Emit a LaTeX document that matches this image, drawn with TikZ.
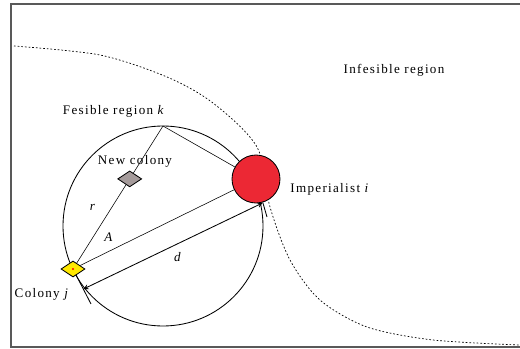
\documentclass[tikz,border=0pt]{standalone}
\usepackage{fontspec}
\setmainfont{Liberation Serif}[LetterSpace=10]
\usetikzlibrary{calc,shapes.geometric,backgrounds}
\definecolor{impred}{RGB}{236,40,52}
\definecolor{colyellow}{RGB}{255,232,0}
\definecolor{newgray}{RGB}{165,155,155}

\begin{document}
\begin{tikzpicture}[>=stealth,line width=0.6pt,x=0.25mm,y=0.25mm,
    lbl/.style={font=\fontsize{9.3}{11}\selectfont,inner sep=0pt},
    country/.style={draw,inner sep=0pt}]
    \useasboundingbox (0,0) rectangle (520,349);
    % Frame (open on the right)
    \draw[gray!70!black,line width=0.9pt] (520,345) -- (11,345) -- (11,2) -- (520,2);

    % Border of the feasible region
    \draw[line width=0.5pt,dash pattern=on 1.2pt off 1.4pt] plot[smooth] coordinates
        {(14,303) (100,294) (167,272) (213,246) (257,202) (270,142) (290,89) (320,49) (367,22) (433,9) (520,4)};

    % Feasible region k around colony j
    \coordinate (c) at (163,123);
    \coordinate (k) at (163,223);
    \draw (c) circle[radius=100];

    % Imperialist and colonies
    \node[country,circle,fill=impred,minimum size=12mm] (imp) at (256,170) {};
    \node[country,diamond,fill=colyellow,minimum width=6mm,minimum height=4mm] (col) at (73,80) {};
    \node[circle,fill=red,inner sep=0pt,minimum size=0.6mm] (dot) at (col) {};
    \node[country,diamond,fill=newgray,minimum width=6mm,minimum height=4mm] (new) at ($(col)!0.63!(k)$) {};

    % Lines under the countries
    \begin{scope}[on background layer]
        \draw (col) -- (k);
        \draw (k) -- (imp);
        \draw (col) -- (imp);
    \end{scope}

    % Distance d
    \coordinate (e1) at (91,45);
    \coordinate (e2) at (267,132);
    \coordinate (d1) at (83.5,60);
    \coordinate (d2) at (262.5,146);
    \draw (col) -- (e1);
    \draw (imp) -- (e2);
    \draw[<->] (d1) -- (d2);

    % Labels
    \node[lbl] (infes) at (394,279) {Infesible region};
    \node[lbl] (fesk) at (114,238) {Fesible region \textit{k}};
    \node[lbl] (newlbl) at (135,188) {New colony};
    \node[lbl,anchor=west] (implbl) at (290,160) {Imperialist \textit{i}};
    \node[lbl] (rlbl) at (93,142) {\textit{r}};
    \node[lbl] (albl) at (109,112) {\textit{A}};
    \node[lbl] (dlbl) at (178,92) {\textit{d}};
    \node[lbl] (collbl) at (42,55) {Colony \textit{j}};
\end{tikzpicture}
\end{document}
